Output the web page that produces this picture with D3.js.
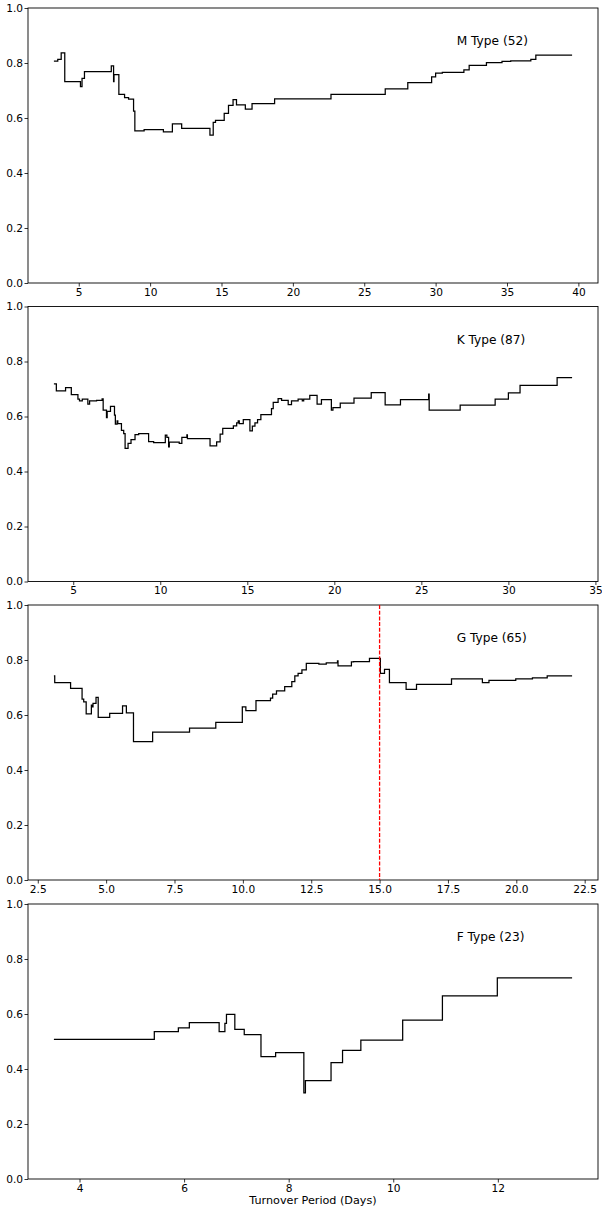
<!DOCTYPE html>
<html><head><meta charset="utf-8">
<script src="https://cdn.jsdelivr.net/npm/d3@7/dist/d3.min.js"></script>
<style>body{margin:0;background:#fff} .mk{stroke:#ff0000 !important;}</style></head>
<body><svg id="c" width="602" height="1208"></svg>
<script>
// ---- data (step functions, value held from each x until the next) ----
const mX = [3.26,3.53,3.77,4.02,5.12,5.23,5.40,7.28,7.44,7.47,7.81,8.21,8.49,8.84,8.93,9.58,10.93,11.56,12.21,14.19,14.42,14.58,15.19,15.49,15.81,16.05,16.67,17.14,18.72,22.67,26.47,28.05,29.72,30.0,30.47,31.98,32.35,33.56,34.65,35.26,36.67,37.02,39.56];
const mY = [0.807,0.813,0.837,0.732,0.714,0.744,0.769,0.790,0.732,0.758,0.686,0.674,0.669,0.625,0.553,0.558,0.550,0.579,0.562,0.538,0.584,0.591,0.617,0.646,0.667,0.648,0.632,0.652,0.670,0.686,0.706,0.729,0.750,0.763,0.766,0.775,0.791,0.801,0.806,0.808,0.813,0.829,0.829];

const kX = [3.89,4.03,4.56,4.89,5.27,5.36,5.52,5.84,5.94,6.34,6.66,6.72,6.91,6.95,7.14,7.37,7.42,7.52,7.56,7.77,7.90,7.98,8.15,8.32,8.55,8.76,9.33,9.62,10.29,10.38,10.48,10.52,11.09,11.24,11.53,11.56,12.86,13.24,13.44,13.59,14.20,14.39,14.48,14.54,14.77,15.15,15.29,15.44,15.59,15.78,16.39,16.49,16.77,16.97,17.35,17.54,17.92,18.16,18.24,18.59,19.01,19.26,19.83,19.92,20.34,21.13,22.12,22.92,23.80,25.42,25.45,27.23,29.24,30.0,30.67,32.80,33.66];
const kY = [0.719,0.693,0.705,0.680,0.663,0.657,0.663,0.645,0.657,0.659,0.664,0.623,0.596,0.619,0.637,0.605,0.572,0.584,0.574,0.550,0.538,0.484,0.502,0.516,0.534,0.538,0.509,0.505,0.532,0.524,0.490,0.507,0.502,0.524,0.533,0.520,0.493,0.508,0.536,0.557,0.566,0.577,0.584,0.574,0.589,0.548,0.565,0.577,0.589,0.607,0.629,0.651,0.665,0.659,0.643,0.657,0.663,0.657,0.663,0.677,0.645,0.661,0.623,0.632,0.649,0.667,0.687,0.642,0.661,0.681,0.623,0.641,0.663,0.686,0.713,0.741,0.741];

const gX = [3.09,3.12,3.70,4.12,4.18,4.27,4.46,4.50,4.52,4.63,4.71,5.13,5.60,5.74,6.00,6.70,8.05,9.01,9.98,10.11,10.48,11.01,11.09,11.23,11.53,11.79,11.90,12.02,12.16,12.32,12.78,13.05,13.46,13.48,13.97,14.05,14.63,15.03,15.18,15.36,15.97,16.35,17.63,18.76,19.00,19.98,20.59,21.13,22.04];
const gY = [0.742,0.718,0.697,0.658,0.648,0.604,0.636,0.630,0.642,0.664,0.591,0.606,0.633,0.608,0.503,0.538,0.552,0.573,0.630,0.616,0.652,0.661,0.676,0.688,0.703,0.721,0.742,0.751,0.764,0.788,0.785,0.790,0.797,0.779,0.793,0.794,0.806,0.751,0.766,0.718,0.693,0.711,0.731,0.718,0.726,0.731,0.735,0.742,0.742];

const fX = [3.51,5.43,5.89,6.10,6.67,6.78,6.81,6.97,7.15,7.47,7.75,8.29,8.32,8.81,9.03,9.38,10.18,10.94,11.99,13.42];
const fY = [0.508,0.536,0.550,0.569,0.536,0.566,0.599,0.544,0.525,0.445,0.460,0.313,0.358,0.423,0.468,0.505,0.578,0.666,0.731,0.731];

const labels = ["M Type (52)","K Type (87)","G Type (65)","F Type (23)"];
const mTicks = [5,10,15,20,25,30,35,40];
const kTicks = [5,10,15,20,25,30,35];
const gTicks = [2.5,5,7.5,10,12.5,15,17.5,20,22.5];
const fTicks = [4,6,8,10,12];
const yTicks = [0,0.2,0.4,0.6,0.8,1.0];
const gMarker = [15];
const xTitle = "Turnover Period (Days)";

// ---- layout ----
const svg = d3.select("#c");
const L = 28, R = 598, PW = R - L, PH = 275;
const tops = [8, 306.5, 605, 904];
const FONT = "DejaVu Sans";

const panels = [
  {x:mX, y:mY, ticks:mTicks, fmt:d3.format("d")},
  {x:kX, y:kY, ticks:kTicks, fmt:d3.format("d")},
  {x:gX, y:gY, ticks:gTicks, fmt:d3.format(".1f"), marker:gMarker},
  {x:fX, y:fY, ticks:fTicks, fmt:d3.format("d")}
];

panels.forEach((p, i) => {
  const g = svg.append("g").attr("transform", `translate(${L},${tops[i]})`);
  const [lo, hi] = d3.extent(p.x);
  const pad = (hi - lo) * 0.05;
  const x = d3.scaleLinear().domain([lo - pad, hi + pad]).range([0, PW]);
  const y = d3.scaleLinear().domain([0, 1]).range([PH, 0]);

  const xa = g.append("g").attr("transform", `translate(0,${PH})`)
    .call(d3.axisBottom(x).tickValues(p.ticks).tickFormat(p.fmt).tickSize(3.5).tickPadding(1.5));
  const ya = g.append("g")
    .call(d3.axisLeft(y).tickValues(yTicks).tickFormat(d3.format(".1f")).tickSize(3.5).tickPadding(1.5));
  [xa, ya].forEach(a => {
    a.select(".domain").remove();
    a.selectAll("text").attr("font-family", FONT).attr("font-size", "10.6px").attr("fill", "#000");
    a.selectAll("line").attr("stroke", "#000").attr("stroke-width", 0.8);
  });

  const pts = p.x.map((v, j) => [v, p.y[j]]);
  g.append("path").datum(pts)
    .attr("fill", "none").attr("stroke", "#000").attr("stroke-width", 1.25)
    .attr("d", d3.line().x(d => x(d[0])).y(d => y(d[1])).curve(d3.curveStepAfter));

  g.append("rect").attr("x", 0).attr("y", 0).attr("width", PW).attr("height", PH)
    .attr("fill", "none").attr("stroke", "#000").attr("stroke-width", 0.9);

  if (p.marker) {
    g.selectAll("line.mk").data(p.marker).enter().append("line")
      .attr("class", "mk")
      .attr("x1", d => x(d)).attr("x2", d => x(d)).attr("y1", 0).attr("y2", PH)
      .style("stroke", "#ff0000").style("stroke-width", "1.3px").style("stroke-dasharray", "4,1.7");
  }

  g.append("text").attr("x", PW * 0.752).attr("y", PH * (1 - 0.864))
    .attr("font-family", FONT).attr("font-size", "12.2px").attr("fill", "#000")
    .text(labels[i]);
});

svg.append("text").attr("x", L + PW / 2).attr("y", 1204)
  .attr("text-anchor", "middle").attr("font-family", FONT).attr("font-size", "11.2px")
  .attr("fill", "#000").text(xTitle);
</script>
</body></html>
